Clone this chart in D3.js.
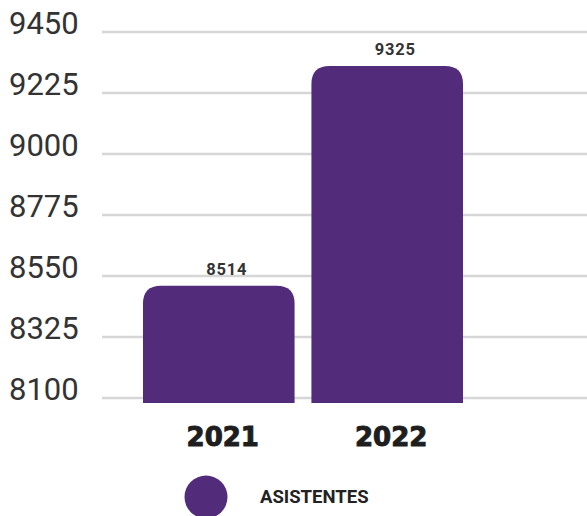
<!DOCTYPE html>
<html>
<head>
<meta charset="utf-8">
<script src="https://cdn.jsdelivr.net/npm/d3@7"></script>
<style>
  body { margin: 0; background: #fff; }
  svg { display: block; font-family: Roboto, "Open Sans", sans-serif; }
</style>
</head>
<body>
<div id="chart"></div>
<script>
// chart data
var years = ["2021", "2022"];
var asistentes = [8514, 9325];
var yTicks = [8100, 8325, 8550, 8775, 9000, 9225, 9450];
var seriesName = "ASISTENTES";

var totwidth = 587,
    totheight = 516,
    barColor = "#522c7a";

var svg = d3.select("#chart").append("svg")
    .attr("width", totwidth)
    .attr("height", totheight);

// scales
var x = d3.scaleBand().domain(years).range([143, 463]).paddingInner(0.1).paddingOuter(0);
var y = d3.scaleLinear().domain([8100, 9450]).range([398, 32]);

// gridlines
svg.append("g").selectAll("line")
    .data(yTicks)
  .enter().append("line")
    .attr("x1", 102)
    .attr("x2", totwidth)
    .attr("y1", function(d) { return y(d); })
    .attr("y2", function(d) { return y(d); })
    .attr("stroke", "#d6d6d6")
    .attr("stroke-width", 2.5);

// y tick labels
svg.append("g").selectAll("text")
    .data(yTicks)
  .enter().append("text")
    .attr("x", 9)
    .attr("y", function(d) { return y(d) - 9; })
    .attr("dy", "0.35em")
    .attr("font-size", 31)
    .attr("fill", "#333")
    .text(function(d) { return d; });

// bars with rounded tops
var r = 18;
function barPath(d, i) {
  var x0 = x(years[i]), w = x.bandwidth(), top = y(d), bot = y(8100) + 5;
  return "M" + x0 + "," + bot +
         "V" + (top + r) +
         "Q" + x0 + "," + top + " " + (x0 + r) + "," + top +
         "H" + (x0 + w - r) +
         "Q" + (x0 + w) + "," + top + " " + (x0 + w) + "," + (top + r) +
         "V" + bot + "Z";
}
svg.append("g").selectAll("path")
    .data(asistentes)
  .enter().append("path")
    .attr("d", barPath)
    .attr("fill", barColor);

// value labels
svg.append("g").selectAll("text")
    .data(asistentes)
  .enter().append("text")
    .attr("x", function(d, i) { return x(years[i]) + x.bandwidth() / 2 + 8; })
    .attr("y", function(d) { return y(d) - 11; })
    .attr("text-anchor", "middle")
    .attr("font-size", 16.5)
    .attr("font-weight", "bold")
    .attr("letter-spacing", 0.8)
    .attr("fill", "#333")
    .text(function(d) { return d; });

// x labels (heavy)
svg.append("g").selectAll("text")
    .data(years)
  .enter().append("text")
    .attr("x", function(d) { return x(d) + x.bandwidth() / 2 + 4; })
    .attr("y", 446)
    .attr("text-anchor", "middle")
    .attr("font-family", "'DejaVu Sans', sans-serif")
    .attr("font-size", 26)
    .attr("font-weight", "bold")
    .attr("fill", "#1e1e1e")
    .attr("stroke", "#1e1e1e")
    .attr("stroke-width", 1)
    .text(function(d) { return d; });

// legend
svg.append("circle")
    .attr("cx", 206)
    .attr("cy", 497)
    .attr("r", 21.5)
    .attr("fill", barColor);
svg.append("text")
    .attr("x", 260)
    .attr("y", 497)
    .attr("dy", "0.35em")
    .attr("font-size", 18.5)
    .attr("font-weight", "bold")
    .attr("fill", "#222")
    .text(seriesName);
</script>
</body>
</html>
